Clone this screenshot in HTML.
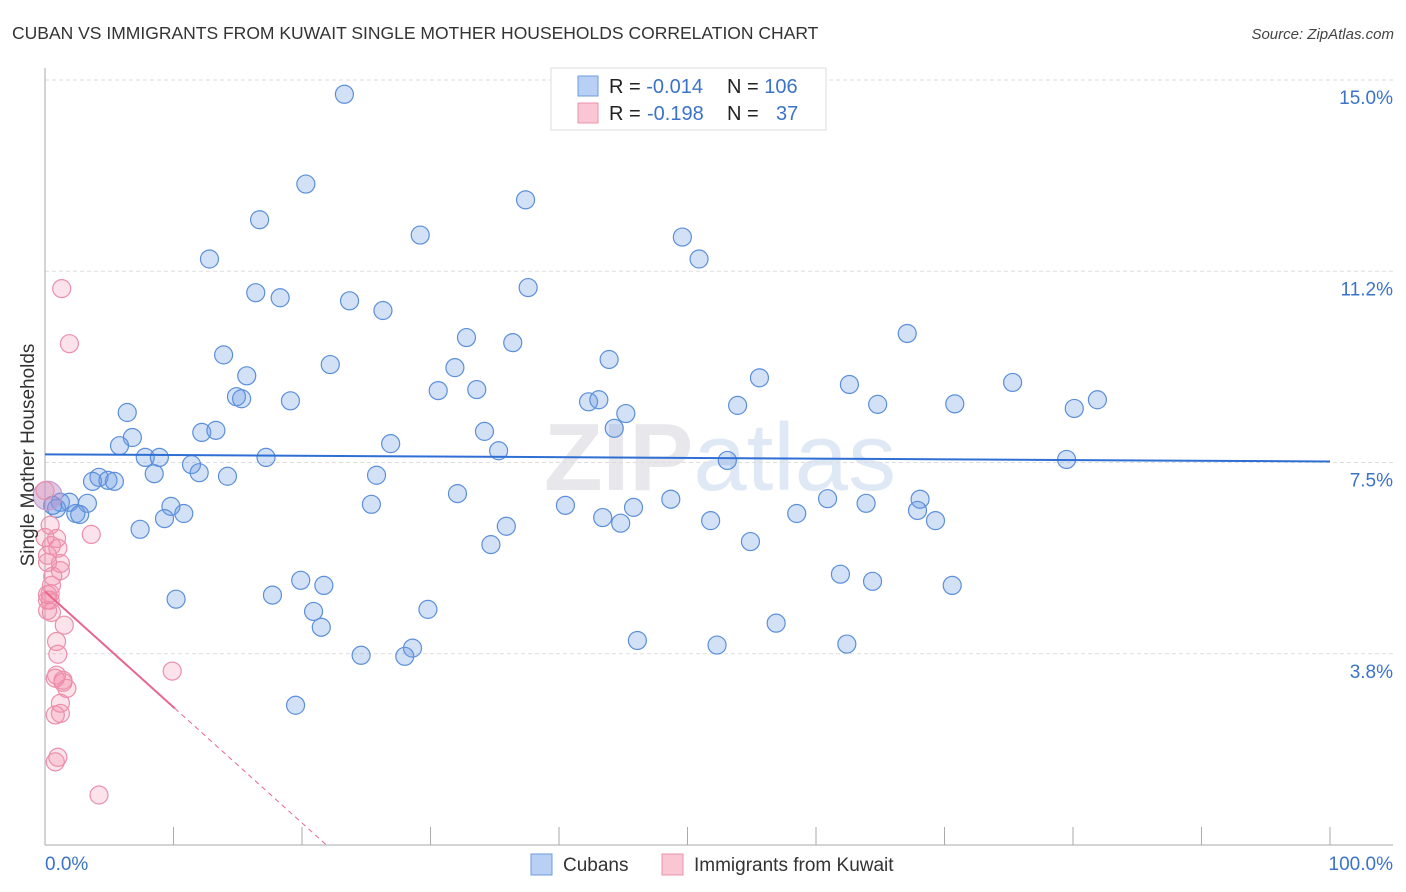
<!DOCTYPE html>
<html><head><meta charset="utf-8"><style>
body{margin:0;background:#fff;font-family:"Liberation Sans",sans-serif}
svg{display:block}
</style></head><body>
<svg id="chart" width="1406" height="892" xmlns="http://www.w3.org/2000/svg" font-family="Liberation Sans, sans-serif">
<text x="12" y="39" font-size="17.5" fill="#333">CUBAN VS IMMIGRANTS FROM KUWAIT SINGLE MOTHER HOUSEHOLDS CORRELATION CHART</text>
<text x="1394" y="39" font-size="15" fill="#444" font-style="italic" text-anchor="end">Source: ZipAtlas.com</text>
<text x="720" y="490" font-size="96" fill="#e8e8ec" text-anchor="middle" font-weight="bold">ZIP<tspan fill="#dfe8f5" font-weight="normal">atlas</tspan></text>
<g id="grid"></g>
<g id="axes"></g>
<g id="pts"></g>
<g id="trends"></g>
<text transform="translate(34,455) rotate(-90)" font-size="19" fill="#333" text-anchor="middle">Single Mother Households</text>
<text x="45" y="870" font-size="19" fill="#3b73c9">0.0%</text>
<text x="1393" y="870" font-size="19" fill="#3b73c9" text-anchor="end">100.0%</text>
<g>
<rect x="551" y="68" width="275" height="62" fill="#fff" stroke="#ddd"/>
<rect x="578" y="76" width="20" height="20" fill="#b8d0f3" stroke="#6e9be0"/>
<rect x="578" y="103" width="20" height="20" fill="#f9c6d4" stroke="#ec93ad"/>
<text x="609" y="93" font-size="20" fill="#222">R = <tspan fill="#3b73c9">-0.014</tspan><tspan x="727">N = </tspan><tspan fill="#3b73c9">106</tspan></text>
<text x="609" y="120" font-size="20" fill="#222">R = <tspan fill="#3b73c9" x="647">-0.198</tspan><tspan x="727">N = </tspan><tspan fill="#3b73c9" x="776">37</tspan></text>
</g>
<g>
<rect x="531" y="854" width="21" height="21" fill="#b8d0f3" stroke="#6e9be0"/>
<text x="563" y="871" font-size="19" fill="#333">Cubans</text>
<rect x="662" y="854" width="21" height="21" fill="#f9c6d4" stroke="#ec93ad"/>
<text x="694" y="871" font-size="19" fill="#333">Immigrants from Kuwait</text>
</g>
</svg>
<script>
const yTicks=[3.75,7.5,11.25,15];
const yTickLabels=["3.8%","7.5%","11.2%","15.0%"];
const xTicks=[0,10,20,30,40,50,60,70,80,90,100];
const cubanX=[23.3,20.3,37.4,16.7,29.2,49.6,12.8,50.9,16.4,18.3,37.6,23.7,26.3,67.1,32.8,36.4,13.9,43.9,22.2,31.9,15.7,55.6,75.3,62.6,30.6,33.6,14.9,15.3,19.1,42.3,43.1,81.9,53.9,64.8,70.8,80.1,6.4,45.2,44.3,12.2,13.3,34.2,6.8,26.9,5.8,35.3,7.8,8.9,17.2,53.1,79.5,11.4,8.5,12.0,25.8,14.2,4.2,3.7,4.9,5.4,32.1,48.7,60.9,63.9,68.1,1.2,1.9,3.3,25.4,40.5,45.8,9.8,67.9,10.8,2.4,2.7,0.9,43.4,44.8,51.8,58.5,69.3,9.3,7.4,35.9,34.7,54.9,61.9,19.9,21.7,64.4,70.6,17.7,10.2,29.8,20.9,21.5,56.9,46.1,52.3,62.4,24.6,28.6,28.0,19.5,0.6];
const cubanY=[14.72,12.96,12.65,12.26,11.96,11.92,11.49,11.49,10.83,10.73,10.93,10.67,10.48,10.03,9.95,9.85,9.61,9.52,9.42,9.36,9.20,9.16,9.07,9.03,8.91,8.93,8.79,8.75,8.71,8.69,8.73,8.73,8.62,8.64,8.65,8.56,8.48,8.46,8.17,8.09,8.13,8.11,7.99,7.87,7.83,7.73,7.60,7.60,7.60,7.54,7.56,7.46,7.28,7.30,7.25,7.23,7.21,7.13,7.15,7.13,6.89,6.78,6.79,6.70,6.78,6.72,6.72,6.70,6.68,6.66,6.62,6.64,6.56,6.50,6.50,6.48,6.60,6.42,6.31,6.36,6.50,6.36,6.40,6.19,6.25,5.89,5.95,5.31,5.19,5.09,5.17,5.09,4.90,4.82,4.62,4.58,4.27,4.35,4.01,3.92,3.94,3.72,3.86,3.70,2.74,6.66];
const kuwaitX=[1.3,1.9,3.6,0,0.9,0.5,1.0,1.2,0.2,1.2,0.6,0.2,0.2,0.5,0.4,1.5,0.9,1.0,0.8,1.4,1.7,1.2,0.8,1.2,1.0,0.8,4.2,9.9,0.2,0,0.2,0.4,0.9,0.2,0.5,0.4,1.4];
const kuwaitY=[10.91,9.83,6.09,6.03,6.01,5.87,5.82,5.52,5.54,5.38,5.27,4.91,4.80,4.56,4.93,4.31,3.99,3.74,3.27,3.19,3.07,2.78,2.55,2.58,1.72,1.63,0.98,3.41,6.85,6.95,5.68,4.80,3.33,4.60,5.09,6.27,3.23];
const kuwaitSize=[1,1,1,1,1,1,1,1,1,1,1,1,1,1,1,1,1,1,1,1,1,1,1,1,1,1,1,1,1.6,1,1,1,1,1,1,1,1];
const cubanTrend=[7.66,7.52];
const kuwaitTrend=[4.97,2.68,0];
const kuwaitTrendX=[0,10.1,21.9];

const X0=45,X1=1330,YB=845,YT=80;
const sx=v=>X0+(X1-X0)*v/100;
const sy=v=>YB-(YB-YT)*v/15;
const NS="http://www.w3.org/2000/svg";
function mk(t,a,p){const e=document.createElementNS(NS,t);for(const k in a)e.setAttribute(k,a[k]);p.appendChild(e);return e;}
const grid=document.getElementById('grid'),axes=document.getElementById('axes'),pts=document.getElementById('pts'),tr=document.getElementById('trends');
yTicks.forEach((v,i)=>{
  const l=mk('line',{x1:X0,x2:1393,y1:sy(v),y2:sy(v),stroke:'#ddd','stroke-dasharray':'4,3'},grid);
  
  
  const t=mk('text',{x:1393,y:sy(v)+24,'font-size':19,fill:'#3b73c9','text-anchor':'end'},grid);
  t.textContent=yTickLabels[i];
  
  
});
const ya=mk('line',{x1:X0,x2:X0,y1:68,y2:YB,stroke:'#aaa'},axes);


const xa=mk('line',{x1:X0,x2:1393,y1:YB,y2:YB,stroke:'#aaa'},axes);


xTicks.forEach(v=>{
  const t=mk('line',{x1:sx(v),x2:sx(v),y1:YB-18,y2:YB,stroke:'#aaa'},axes);
  
  
});
cubanX.forEach((v,i)=>{
  const c=mk('circle',{cx:sx(v),cy:sy(cubanY[i]),r:9,fill:'rgba(110,155,230,0.3)',stroke:'#5b8fd9','stroke-width':1.2},pts);
  
  
});
kuwaitX.forEach((v,i)=>{
  const big=kuwaitSize[i]>1;
  const c=mk('circle',{cx:sx(v),cy:sy(kuwaitY[i]),r:9*kuwaitSize[i],fill:big?'rgba(180,140,200,0.45)':'rgba(242,140,170,0.25)',stroke:big?'#c89ad0':'#ec8fab','stroke-width':1.2},pts);
  
  
});
const bl=mk('line',{x1:sx(0),x2:sx(100),y1:sy(cubanTrend[0]),y2:sy(cubanTrend[1]),stroke:'#2f6fd4','stroke-width':2},tr);


const pl=mk('line',{x1:sx(kuwaitTrendX[0]),x2:sx(kuwaitTrendX[1]),y1:sy(kuwaitTrend[0]),y2:sy(kuwaitTrend[1]),stroke:'#e8668e','stroke-width':2},tr);


const pd=mk('line',{x1:sx(kuwaitTrendX[1]),x2:sx(kuwaitTrendX[2]),y1:sy(kuwaitTrend[1]),y2:sy(kuwaitTrend[2]),stroke:'#e8668e','stroke-width':1,'stroke-dasharray':'5,4'},tr);


</script>
</body></html>
